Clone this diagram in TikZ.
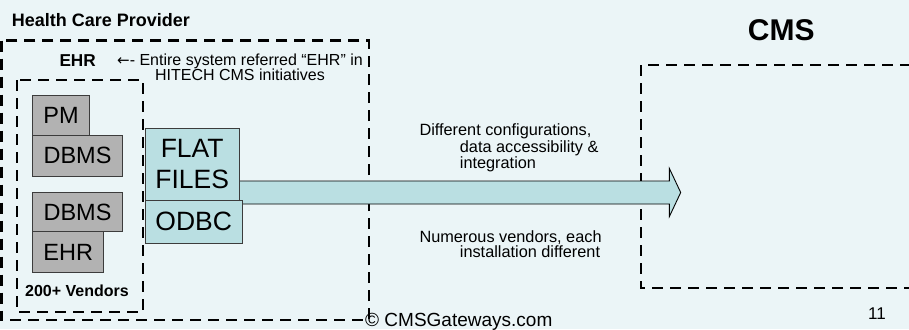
\documentclass[tikz,border=0pt]{standalone}
\usepackage{fontspec}
\setmainfont{Liberation Sans}
\newfontfamily\arrowglyph{DejaVu Sans}
\definecolor{bgcol}{RGB}{235,245,247}
\definecolor{grayfill}{RGB}{178,178,178}
\definecolor{tealfill}{RGB}{186,223,226}
\definecolor{boxline}{RGB}{60,60,60}
\begin{document}
\begin{tikzpicture}[x=1pt,y=-1pt,
  dashbox/.style={draw=black,line width=2.4pt,dash pattern=on 11pt off 7pt},
  graybox/.style={draw=boxline,fill=grayfill,line width=0.9pt,inner sep=0pt,
    font=\fontsize{23.5}{26}\selectfont},
  tealbox/.style={draw=boxline,fill=tealfill,line width=0.9pt,inner sep=0pt,align=center,
    font=\fontsize{26.5}{31.5}\selectfont},
  smalltext/.style={inner sep=0pt,font=\fontsize{16.3}{15}\selectfont},
  boldtext/.style={inner sep=0pt,font=\bfseries\fontsize{16.5}{18}\selectfont},
  bigarrow/.style={draw=black,fill=tealfill,line width=0.9pt,line join=miter}
]
\useasboundingbox (0,0) rectangle (909,329);
\fill[bgcol] (0,0) rectangle (909,329);

% dashed containers
\draw[dashbox] (1.3,40.7) rectangle (369,320);
\draw[dashbox] (16.7,80) rectangle (143,311.7);
\draw[dashbox] (640.7,65) rectangle (940,287.7);

% titles
\node[boldtext,anchor=base west,font=\bfseries\fontsize{18}{20}\selectfont] (hcp) at (11.7,26.7) {Health Care Provider};
\node[boldtext,anchor=base west,font=\bfseries\fontsize{30}{32}\selectfont] (cms) at (747.7,40.7) {CMS};
\node[boldtext,anchor=base west,font=\bfseries\fontsize{17.2}{18}\selectfont] (ehrlbl) at (59.3,66.7) {EHR};
\node[smalltext,anchor=base,align=center,font=\fontsize{16}{14.4}\selectfont] (note) at (240,81)
  {{\arrowglyph\fontsize{15}{14.4}\selectfont ←}- Entire system referred “EHR” in\\HITECH CMS initiatives};
\node[boldtext,anchor=base west,font=\bfseries\fontsize{16}{18}\selectfont] (vend) at (25,296) {200+ Vendors};

% big arrow
\coordinate (tip) at (680.7,192.5);
\draw[bigarrow] (200,181) -- (669.3,181) -- (669.3,168.3) -- (tip) -- (669.3,216.7)
  -- (669.3,204) -- (200,204) -- cycle;

% vendor boxes
\node[graybox,minimum width=56.6pt,minimum height=39.3pt] (pm) at (61,115.3) {PM};
\node[graybox,minimum width=89.6pt,minimum height=41pt] (dbms1) at (77.5,155.5) {DBMS};
\node[graybox,minimum width=89.6pt,minimum height=39.4pt] (dbms2) at (77.5,212) {DBMS};
\node[graybox,minimum width=71pt,minimum height=40.6pt] (ehr) at (68.2,252) {EHR};

% interface boxes
\node[tealbox,minimum width=94.3pt,minimum height=71.7pt] (ff) at (192.2,164.2) {FLAT\\FILES};
\node[tealbox,minimum width=97.3pt,minimum height=43.3pt] (odbc) at (193.7,221.7) {ODBC};

% arrow labels
\node[smalltext,anchor=base west,align=left] (cfg) at (419.3,168.3)
  {Different configurations,\\\hspace*{40.4pt}data accessibility \&\\\hspace*{40.4pt}integration};
\node[smalltext,anchor=base west,align=left] (nv) at (419.3,257.3)
  {Numerous vendors, each\\\hspace*{40.4pt}installation different};

% footer
\node[smalltext,anchor=base west,font=\fontsize{19}{21}\selectfont] (copy) at (365,326.5) {© CMSGateways.com};
\node[smalltext,anchor=base west,font=\fontsize{17}{19}\selectfont] (pg) at (868,319) {11};
\end{tikzpicture}
\end{document}
